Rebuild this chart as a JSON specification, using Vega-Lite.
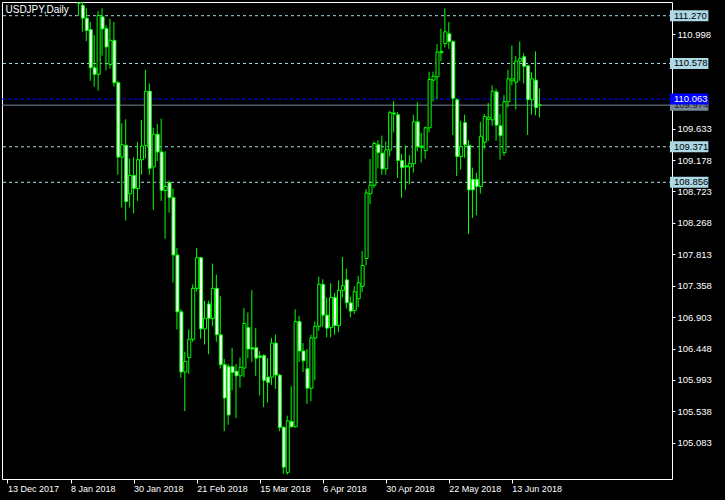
{
  "$schema": "https://vega.github.io/schema/vega-lite/v6.json",
  "width": 670,
  "height": 477,
  "autosize": "none",
  "padding": {"left": 2, "top": 2, "right": 53, "bottom": 21},
  "background": "black",
  "config": {"view": {"stroke": "white", "strokeWidth": 1}, "font": "Liberation Sans"},
  "title": {"text": "USDJPY,Daily", "anchor": "start", "color": "white", "fontSize": 10, "font": "Liberation Sans", "fontWeight": "normal", "offset": -13, "dx": 4},
  "datasets": {
    "candles": [
      {"n":18,"o":111.60,"h":111.80,"l":111.27,"c":111.45},
      {"n":19,"o":111.42,"h":111.50,"l":111.037,"c":111.235},
      {"n":20,"o":111.235,"h":111.386,"l":110.903,"c":111.055},
      {"n":21,"o":111.069,"h":111.178,"l":110.327,"c":110.516},
      {"n":22,"o":110.516,"h":110.989,"l":110.242,"c":110.421},
      {"n":23,"o":110.421,"h":111.339,"l":110.185,"c":111.272},
      {"n":24,"o":111.254,"h":111.377,"l":110.691,"c":111.079},
      {"n":25,"o":111.083,"h":111.130,"l":110.478,"c":110.818},
      {"n":26,"o":110.563,"h":111.225,"l":110.502,"c":110.913},
      {"n":27,"o":110.913,"h":111.178,"l":110.242,"c":110.299},
      {"n":28,"o":110.299,"h":110.327,"l":108.966,"c":109.221},
      {"n":29,"o":109.221,"h":109.712,"l":108.492,"c":109.400},
      {"n":30,"o":109.391,"h":109.769,"l":108.303,"c":108.577},
      {"n":31,"o":108.690,"h":109.201,"l":108.492,"c":108.956},
      {"n":32,"o":108.956,"h":109.221,"l":108.407,"c":108.767},
      {"n":33,"o":108.767,"h":109.438,"l":108.587,"c":109.183},
      {"n":34,"o":109.183,"h":109.760,"l":108.966,"c":109.381},
      {"n":35,"o":109.391,"h":110.487,"l":109.201,"c":110.176},
      {"n":36,"o":110.176,"h":110.289,"l":108.966,"c":109.060},
      {"n":37,"o":109.079,"h":109.647,"l":108.455,"c":109.552},
      {"n":38,"o":109.552,"h":109.703,"l":109.164,"c":109.296},
      {"n":39,"o":109.296,"h":109.779,"l":108.587,"c":108.739},
      {"n":40,"o":108.739,"h":109.306,"l":108.038,"c":108.796},
      {"n":41,"o":108.852,"h":108.881,"l":108.417,"c":108.634},
      {"n":42,"o":108.634,"h":108.767,"l":107.405,"c":107.803},
      {"n":43,"o":107.803,"h":107.906,"l":106.725,"c":106.980},
      {"n":44,"o":106.980,"h":107.017,"l":106.024,"c":106.109},
      {"n":45,"o":106.109,"h":106.403,"l":105.542,"c":106.261},
      {"n":46,"o":106.318,"h":106.725,"l":106.081,"c":106.583},
      {"n":47,"o":106.583,"h":107.377,"l":106.545,"c":107.320},
      {"n":48,"o":107.320,"h":107.906,"l":107.272,"c":107.764},
      {"n":49,"o":107.764,"h":107.774,"l":106.591,"c":106.733},
      {"n":50,"o":106.733,"h":107.140,"l":106.506,"c":106.885},
      {"n":51,"o":107.093,"h":107.140,"l":106.364,"c":106.885},
      {"n":52,"o":106.885,"h":107.679,"l":106.772,"c":107.320},
      {"n":53,"o":107.320,"h":107.519,"l":106.545,"c":106.648},
      {"n":54,"o":106.648,"h":107.206,"l":106.157,"c":106.214},
      {"n":55,"o":106.214,"h":106.299,"l":105.249,"c":105.731},
      {"n":56,"o":106.186,"h":106.223,"l":105.343,"c":105.485},
      {"n":57,"o":106.186,"h":106.459,"l":105.844,"c":106.101},
      {"n":58,"o":106.119,"h":106.223,"l":105.438,"c":106.053},
      {"n":59,"o":106.053,"h":106.318,"l":105.882,"c":106.176},
      {"n":60,"o":106.166,"h":107.037,"l":106.034,"c":106.810},
      {"n":61,"o":106.753,"h":106.970,"l":106.308,"c":106.441},
      {"n":62,"o":106.459,"h":107.292,"l":106.251,"c":106.441},
      {"n":63,"o":106.459,"h":106.743,"l":106.053,"c":106.308},
      {"n":64,"o":106.340,"h":106.410,"l":105.770,"c":106.320},
      {"n":65,"o":106.346,"h":106.365,"l":105.598,"c":105.987},
      {"n":66,"o":106.034,"h":106.308,"l":105.665,"c":105.958},
      {"n":67,"o":106.034,"h":106.601,"l":105.920,"c":106.526},
      {"n":68,"o":106.526,"h":106.648,"l":105.864,"c":106.063},
      {"n":69,"o":106.063,"h":106.081,"l":105.249,"c":105.306},
      {"n":70,"o":105.306,"h":105.325,"l":104.634,"c":104.729},
      {"n":71,"o":104.654,"h":105.476,"l":104.620,"c":105.400},
      {"n":72,"o":105.391,"h":105.902,"l":105.300,"c":105.315},
      {"n":73,"o":105.315,"h":107.017,"l":105.300,"c":106.838},
      {"n":74,"o":106.838,"h":106.923,"l":106.251,"c":106.412},
      {"n":75,"o":106.412,"h":106.526,"l":106.109,"c":106.271},
      {"n":76,"o":106.157,"h":106.440,"l":105.647,"c":105.873},
      {"n":77,"o":105.873,"h":106.648,"l":105.684,"c":106.601},
      {"n":78,"o":106.601,"h":106.838,"l":105.987,"c":106.771},
      {"n":79,"o":106.771,"h":107.490,"l":106.705,"c":107.377},
      {"n":80,"o":107.377,"h":107.452,"l":106.762,"c":106.932},
      {"n":81,"o":106.932,"h":107.187,"l":106.611,"c":106.743},
      {"n":82,"o":106.753,"h":107.396,"l":106.611,"c":107.187},
      {"n":83,"o":107.187,"h":107.254,"l":106.648,"c":106.781},
      {"n":84,"o":106.781,"h":107.434,"l":106.686,"c":107.292},
      {"n":85,"o":107.292,"h":107.774,"l":107.187,"c":107.358},
      {"n":86,"o":107.443,"h":107.604,"l":107.027,"c":107.112},
      {"n":87,"o":107.112,"h":107.200,"l":106.900,"c":106.990},
      {"n":88,"o":107.000,"h":107.350,"l":106.950,"c":107.270},
      {"n":89,"o":107.170,"h":107.500,"l":107.050,"c":107.400},
      {"n":90,"o":107.349,"h":107.859,"l":107.264,"c":107.651},
      {"n":91,"o":107.754,"h":108.757,"l":107.651,"c":108.701},
      {"n":92,"o":108.691,"h":109.193,"l":108.540,"c":108.814},
      {"n":93,"o":108.814,"h":109.447,"l":108.776,"c":109.419},
      {"n":94,"o":109.400,"h":109.466,"l":109.060,"c":109.286},
      {"n":95,"o":109.278,"h":109.533,"l":108.966,"c":109.051},
      {"n":96,"o":109.051,"h":109.447,"l":108.966,"c":109.325},
      {"n":97,"o":109.325,"h":109.892,"l":109.230,"c":109.864},
      {"n":98,"o":109.846,"h":110.034,"l":109.580,"c":109.860},
      {"n":99,"o":109.835,"h":109.873,"l":108.917,"c":109.173},
      {"n":100,"o":109.173,"h":109.268,"l":108.634,"c":109.069},
      {"n":101,"o":109.098,"h":109.391,"l":108.748,"c":109.079},
      {"n":102,"o":109.079,"h":109.249,"l":108.824,"c":109.126},
      {"n":103,"o":109.126,"h":109.835,"l":108.994,"c":109.732},
      {"n":104,"o":109.732,"h":110.015,"l":109.306,"c":109.372},
      {"n":105,"o":109.381,"h":109.570,"l":109.145,"c":109.362},
      {"n":106,"o":109.315,"h":109.665,"l":109.201,"c":109.646},
      {"n":107,"o":109.646,"h":110.459,"l":109.580,"c":110.346},
      {"n":108,"o":110.337,"h":110.459,"l":110.024,"c":110.393},
      {"n":109,"o":110.384,"h":110.857,"l":110.062,"c":110.743},
      {"n":110,"o":110.753,"h":111.083,"l":110.611,"c":110.734},
      {"n":111,"o":110.867,"h":111.377,"l":110.810,"c":111.036},
      {"n":112,"o":111.008,"h":111.178,"l":110.790,"c":110.895},
      {"n":113,"o":110.895,"h":110.913,"l":109.542,"c":110.072},
      {"n":114,"o":110.053,"h":110.072,"l":108.946,"c":109.230},
      {"n":115,"o":109.230,"h":109.750,"l":109.041,"c":109.372},
      {"n":116,"o":109.722,"h":109.835,"l":109.211,"c":109.400},
      {"n":117,"o":109.391,"h":109.466,"l":108.105,"c":108.747},
      {"n":118,"o":108.899,"h":109.069,"l":108.341,"c":108.747},
      {"n":119,"o":108.899,"h":108.994,"l":108.379,"c":108.795},
      {"n":120,"o":108.795,"h":109.732,"l":108.691,"c":109.523},
      {"n":121,"o":109.438,"h":109.845,"l":109.343,"c":109.807},
      {"n":122,"o":109.769,"h":110.006,"l":109.457,"c":109.797},
      {"n":123,"o":109.760,"h":110.261,"l":109.675,"c":110.176},
      {"n":124,"o":110.166,"h":110.214,"l":109.457,"c":109.684},
      {"n":125,"o":109.675,"h":109.845,"l":109.183,"c":109.533},
      {"n":126,"o":109.287,"h":110.119,"l":109.240,"c":110.024},
      {"n":127,"o":110.024,"h":110.487,"l":109.939,"c":110.355},
      {"n":128,"o":110.327,"h":110.838,"l":110.261,"c":110.355},
      {"n":129,"o":110.307,"h":110.686,"l":109.911,"c":110.611},
      {"n":130,"o":110.611,"h":110.895,"l":110.327,"c":110.648},
      {"n":131,"o":110.676,"h":110.725,"l":110.289,"c":110.535},
      {"n":132,"o":110.544,"h":110.554,"l":109.542,"c":110.053},
      {"n":133,"o":110.053,"h":110.450,"l":109.835,"c":110.355},
      {"n":134,"o":110.336,"h":110.753,"l":109.826,"c":109.939},
      {"n":135,"o":109.977,"h":110.214,"l":109.797,"c":109.974}
    ],
    "levels": [{"price":111.270},{"price":110.578},{"price":109.371},{"price":108.856}],
    "bid": [{"price":109.974}],
    "blue": [{"price":110.063}]
  },
  "layer": [
    {
      "data": {"name": "levels"},
      "mark": {"type": "rule", "color": "#add8e6", "strokeWidth": 1, "strokeDash": [3, 3]},
      "encoding": {
        "y": {
          "field": "price", "type": "quantitative",
          "scale": {"domain": [104.630, 111.396], "nice": false, "zero": false},
          "axis": {
            "orient": "right",
            "values": [110.998, 109.633, 109.178, 108.723, 108.268, 107.813, 107.358, 106.903, 106.448, 105.993, 105.538, 105.083],
            "format": ".3f", "labelColor": "white", "tickColor": "white", "tickSize": 3, "labelPadding": 2,
            "domain": false, "grid": false, "title": null, "labelFont": "Liberation Sans", "labelFontSize": 9.5, "labelOverlap": false, "labelFlush": false, "labelBound": false
          }
        }
      }
    },
    {
      "data": {"name": "bid"},
      "mark": {"type": "rule", "color": "#778899", "strokeWidth": 1},
      "encoding": {"y": {"field": "price", "type": "quantitative"}}
    },
    {
      "data": {"name": "blue"},
      "mark": {"type": "rule", "color": "#0000ff", "strokeWidth": 1, "strokeDash": [4, 2]},
      "encoding": {"y": {"field": "price", "type": "quantitative"}}
    },
    {
      "data": {"name": "candles"},
      "mark": {"type": "rule", "color": "#00ff00", "strokeWidth": 1, "clip": true},
      "encoding": {
        "x": {
          "field": "n", "type": "quantitative",
          "scale": {"domain": [-0.125, 167.375], "nice": false, "zero": false},
          "axis": {
            "values": [0, 16, 32, 48, 64, 80, 96, 112, 128],
            "labelExpr": "['13 Dec 2017','8 Jan 2018','30 Jan 2018','21 Feb 2018','15 Mar 2018','6 Apr 2018','30 Apr 2018','22 May 2018','13 Jun 2018'][round(datum.value/16)]",
            "labelAlign": "left", "labelBaseline": "top", "labelPadding": 1, "labelOffset": 0,
            "tickSize": 4, "tickColor": "white", "labelColor": "white", "domain": false, "grid": false,
            "title": null, "labelFont": "Liberation Sans", "labelFontSize": 9, "labelOverlap": false, "labelFlush": false, "labelBound": false
          }
        },
        "y": {"field": "l", "type": "quantitative"},
        "y2": {"field": "h"}
      }
    },
    {
      "data": {"name": "candles"},
      "mark": {"type": "bar", "fill": "#00ff00", "stroke": "#00ff00", "strokeWidth": 1, "size": 3, "xOffset": 0.5, "clip": true},
      "encoding": {
        "x": {"field": "n", "type": "quantitative"},
        "y": {"field": "o", "type": "quantitative"},
        "y2": {"field": "c"}
      }
    },
    {
      "data": {"name": "candles"},
      "transform": [{"filter": "datum.o - datum.c > 0.02"}],
      "mark": {"type": "bar", "fill": "white", "size": 2, "xOffset": 0.5, "clip": true, "yOffset": 0.5, "y2Offset": -0.5},
      "encoding": {
        "x": {"field": "n", "type": "quantitative"},
        "y": {"field": "o", "type": "quantitative"},
        "y2": {"field": "c"}
      }
    },
    {
      "data": {"name": "candles"},
      "transform": [{"filter": "datum.c - datum.o > 0.02"}],
      "mark": {"type": "bar", "fill": "black", "size": 2, "xOffset": 0.5, "clip": true, "yOffset": -0.5, "y2Offset": 0.5},
      "encoding": {
        "x": {"field": "n", "type": "quantitative"},
        "y": {"field": "o", "type": "quantitative"},
        "y2": {"field": "c"}
      }
    },
    {
      "mark": {"type": "rule", "color": "white", "strokeWidth": 3},
      "encoding": {
        "x": {"datum": 167.375, "type": "quantitative"},
        "y": {"datum": 109.694, "type": "quantitative"},
        "y2": {"datum": 104.715}
      }
    },
    {
      "data": {"name": "levels"},
      "mark": {"type": "bar", "color": "#add8e6", "size": 11, "clip": false},
      "encoding": {
        "x": {"datum": 168.125, "type": "quantitative"},
        "x2": {"datum": 177.875},
        "y": {"field": "price", "type": "quantitative"}
      }
    },
    {
      "data": {"name": "levels"},
      "mark": {"type": "text", "color": "black", "align": "left", "baseline": "middle", "font": "Liberation Sans", "fontSize": 9.5, "clip": false},
      "encoding": {
        "x": {"datum": 169.125, "type": "quantitative"},
        "y": {"field": "price", "type": "quantitative"},
        "text": {"field": "price", "type": "quantitative", "format": ".3f"}
      }
    },
    {
      "data": {"name": "bid"},
      "mark": {"type": "bar", "color": "#778899", "size": 11, "clip": false},
      "encoding": {
        "x": {"datum": 168.125, "type": "quantitative"},
        "x2": {"datum": 177.875},
        "y": {"field": "price", "type": "quantitative"}
      }
    },
    {
      "data": {"name": "bid"},
      "mark": {"type": "text", "color": "#222222", "align": "left", "baseline": "middle", "font": "Liberation Sans", "fontSize": 9.5, "clip": false},
      "encoding": {
        "x": {"datum": 169.125, "type": "quantitative"},
        "y": {"field": "price", "type": "quantitative"},
        "text": {"field": "price", "type": "quantitative", "format": ".3f"}
      }
    },
    {
      "data": {"name": "blue"},
      "mark": {"type": "bar", "color": "#0000ff", "size": 11, "clip": false},
      "encoding": {
        "x": {"datum": 168.125, "type": "quantitative"},
        "x2": {"datum": 177.875},
        "y": {"field": "price", "type": "quantitative"}
      }
    },
    {
      "data": {"name": "blue"},
      "mark": {"type": "text", "color": "white", "align": "left", "baseline": "middle", "font": "Liberation Sans", "fontSize": 9.5, "clip": false},
      "encoding": {
        "x": {"datum": 169.125, "type": "quantitative"},
        "y": {"field": "price", "type": "quantitative"},
        "text": {"field": "price", "type": "quantitative", "format": ".3f"}
      }
    }
  ]
}
